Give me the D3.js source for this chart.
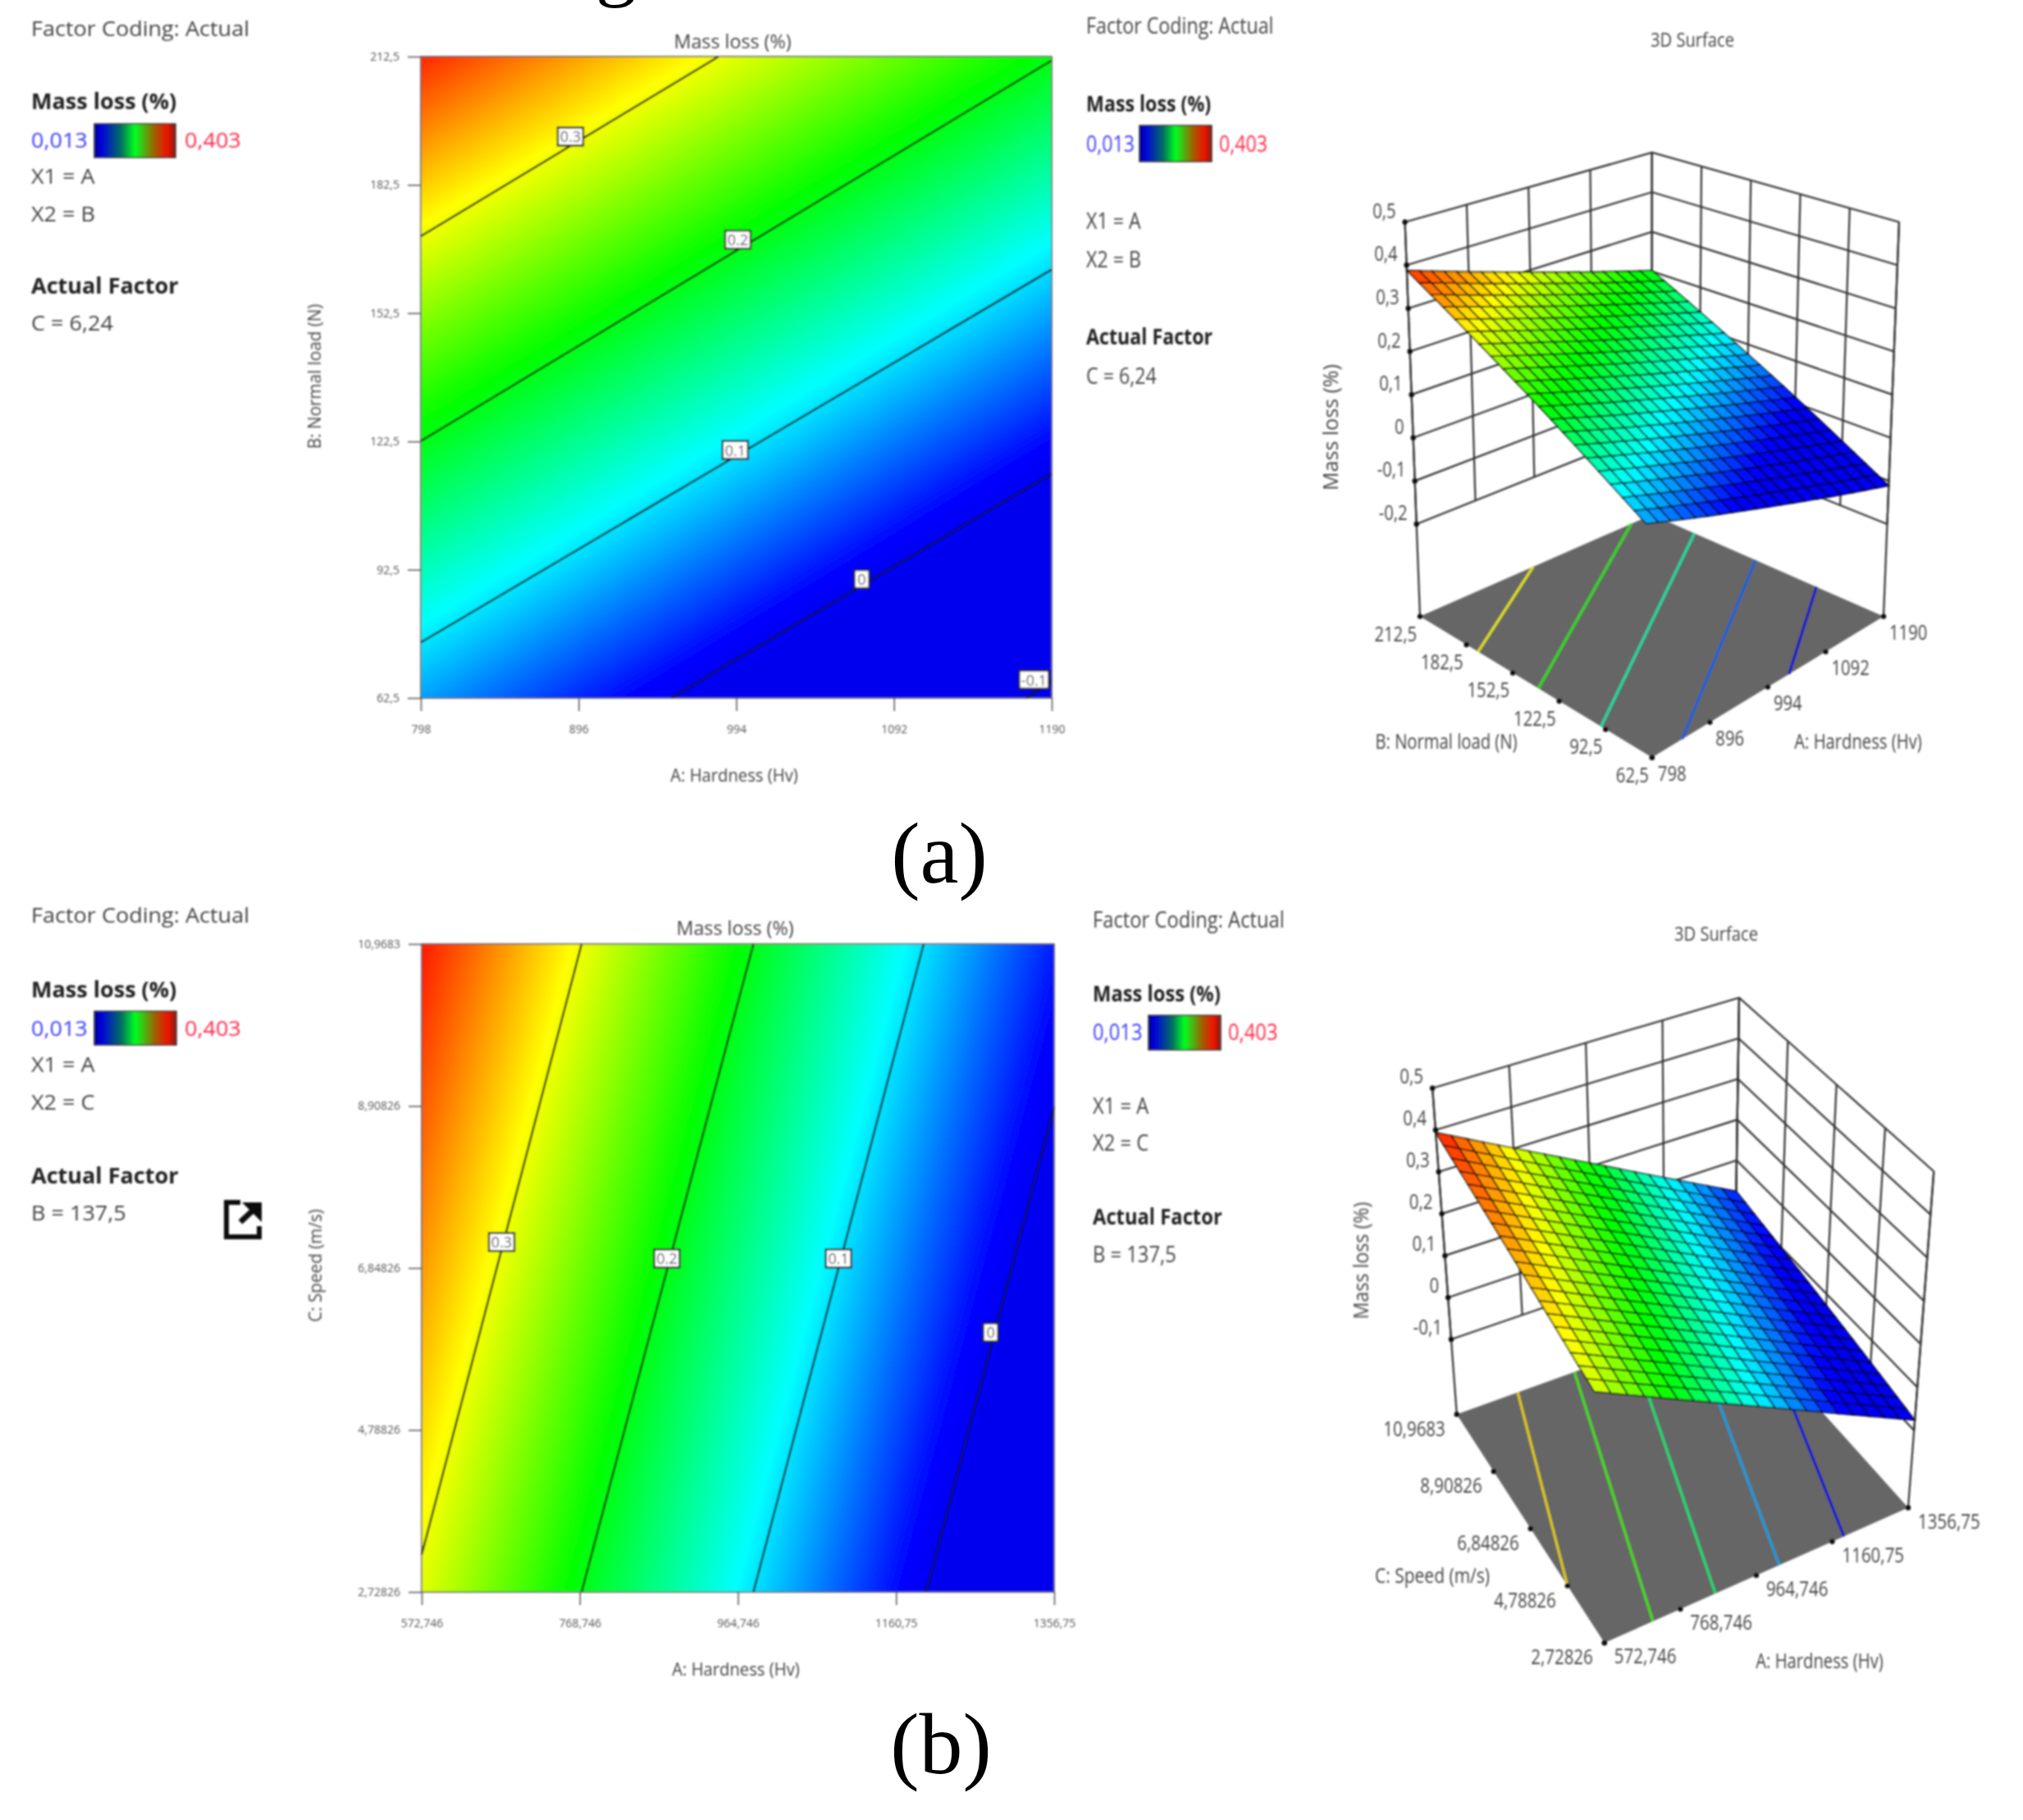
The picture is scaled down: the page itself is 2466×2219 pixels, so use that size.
<!DOCTYPE html>
<html>
<head>
<meta charset="utf-8">
<script src="https://cdn.jsdelivr.net/npm/d3@7"></script>
<style>
  body { margin: 0; background: #fff; }
</style>
</head>
<body>
<svg id="chart" width="2466" height="2219" font-family='"Open Sans", sans-serif'></svg>
<script>
// ---- values ----
const colorLevels = [-0.01, 0.013, 0.1105, 0.208, 0.3055, 0.403];
const colorStops = ['#0000ee', '#0000ff', '#00ffff', '#00ff00', '#ffff00', '#ff0000'];

const hardnessTicksA = [798, 896, 994, 1092, 1190];
const hardnessLabelsA = ['798', '896', '994', '1092', '1190'];
const loadTicks = [212.5, 182.5, 152.5, 122.5, 92.5, 62.5];
const loadLabels = ['212,5', '182,5', '152,5', '122,5', '92,5', '62,5'];
const zTicksA = [0.5, 0.4, 0.3, 0.2, 0.1, 0, -0.1, -0.2];
const zLabelsA = ['0,5', '0,4', '0,3', '0,2', '0,1', '0', '-0,1', '-0,2'];

// mass loss at the tick crossings, rows follow loadTicks, columns hardnessTicksA
const massLossA = [
  [0.388, 0.341, 0.295, 0.248, 0.202],
  [0.325, 0.279, 0.232, 0.186, 0.139],
  [0.262, 0.216, 0.169, 0.123, 0.076],
  [0.200, 0.153, 0.107, 0.060, 0.014],
  [0.137, 0.091, 0.044, -0.002, -0.049],
  [0.075, 0.028, -0.018, -0.065, -0.111],
];
const contourLevelsA = ['0.3', '0.2', '0.1', '0', '-0.1'];
const contourLinesA = [
  [[798, 170.5], [983, 212.5]],
  [[798, 122.6], [1190, 211.6]],
  [[798, 75.5], [1190, 162.7]],
  [[953.5, 62.5], [1190, 115]],
  [[1174, 62.5], [1190, 66.4]],
];
const contourLabelsAtA = [[891, 193.8], [995, 169.7], [993.4, 120.5], [1072, 90.3], [1179, 66.8]];
const floorLevelsA = [0.305, 0.222, 0.138, 0.055, -0.028];
const floorLinesA = [
  [[798, 175], [989, 212.5]],
  [[798, 136], [1155, 212.5]],
  [[798, 95.5], [1190, 185]],
  [[849, 62.5], [1190, 145.4]],
  [[1030, 62.5], [1190, 106]],
];

const hardnessTicksB = [572.746, 768.746, 964.746, 1160.75, 1356.75];
const hardnessLabelsB = ['572,746', '768,746', '964,746', '1160,75', '1356,75'];
const speedTicks = [10.9683, 8.90826, 6.84826, 4.78826, 2.72826];
const speedLabels = ['10,9683', '8,90826', '6,84826', '4,78826', '2,72826'];
const zTicksB = [0.5, 0.4, 0.3, 0.2, 0.1, 0, -0.1];
const zLabelsB = ['0,5', '0,4', '0,3', '0,2', '0,1', '0', '-0,1'];

const massLossB = [
  [0.394, 0.301, 0.209, 0.116, 0.024],
  [0.369, 0.276, 0.184, 0.091, -0.001],
  [0.344, 0.251, 0.159, 0.066, -0.026],
  [0.319, 0.226, 0.134, 0.041, -0.051],
  [0.294, 0.201, 0.109, 0.016, -0.076],
];
const contourLevelsB = ['0.3', '0.2', '0.1', '0'];
const contourLinesB = [
  [[572.746, 3.2], [771, 10.9683]],
  [[771, 2.72826], [984, 10.9683]],
  [[984, 2.72826], [1195, 10.9683]],
  [[1198, 2.72826], [1356.75, 8.9]],
];
const contourLabelsAtB = [[671.9, 7.18], [876.7, 6.97], [1089.5, 6.97], [1278, 6.03]];
const floorLevelsB = [0.3155, 0.237, 0.159, 0.081, 0.002];
const floorLinesB = [
  [[572.746, 4.79], [745, 10.9683]],
  [[698, 2.72826], [905, 10.9683]],
  [[859, 2.72826], [1071, 10.9683]],
  [[1024, 2.72826], [1236, 10.9683]],
  [[1191, 2.72826], [1356.75, 9.15]],
];

const legendColors = ['#000088', '#0000e0', '#007060', '#00ff20', '#a06000', '#f01000', '#802010'];
const legendOffsets = [0, 0.08, 0.33, 0.5, 0.74, 0.9, 1];

// ---- helpers ----
const svg = d3.select('#chart');
const defs = svg.append('defs');
defs.append('filter').attr('id', 'soft')
  .append('feGaussianBlur').attr('stdDeviation', 0.9);
const legendGrad = defs.append('linearGradient').attr('id', 'legendBar');
legendGrad.selectAll('stop')
  .data(legendColors)
  .join('stop')
  .attr('offset', (d, i) => legendOffsets[i])
  .attr('stop-color', d => d);

const color = d3.scaleLinear().domain(colorLevels).range(colorStops).clamp(true);
const root = svg.append('g').attr('filter', 'url(#soft)');

const addText = (g, s, x, y, o = {}) => {
  return g.append('text')
    .attr('transform', `translate(${x},${y}) rotate(${o.rotate || 0}) scale(${o.sx || 1},1)`)
    .attr('dominant-baseline', 'central')
    .attr('text-anchor', o.anchor || 'start')
    .attr('font-size', o.size || 24)
    .attr('font-weight', o.weight || 400)
    .attr('fill', o.fill || '#444')
    .text(s);
};

// reads the value matrix at any position between the ticks
const sampler = (xTicks, yTicks, matrix) => {
  const ix = d3.scaleLinear().domain(d3.extent(xTicks)).range([0, xTicks.length - 1]).clamp(true);
  const iy = d3.scaleLinear().domain([yTicks[0], yTicks[yTicks.length - 1]]).range([0, yTicks.length - 1]).clamp(true);
  return (a, b) => {
    const fx = ix(a), fy = iy(b);
    const x0 = Math.min(Math.floor(fx), xTicks.length - 2), y0 = Math.min(Math.floor(fy), yTicks.length - 2);
    const tx = fx - x0, ty = fy - y0;
    const top = matrix[y0][x0] * (1 - tx) + matrix[y0][x0 + 1] * tx;
    const bot = matrix[y0 + 1][x0] * (1 - tx) + matrix[y0 + 1][x0 + 1] * tx;
    return top * (1 - ty) + bot * ty;
  };
};

const drawLegend = (l) => {
  const g = root.append('g');
  addText(g, 'Factor Coding: Actual', l.x, l.yFactor, { size: l.size, sx: l.sx });
  addText(g, 'Mass loss (%)', l.x, l.yName, { size: l.size, sx: l.sx, weight: 700, fill: '#222' });
  addText(g, '0,013', l.x, l.yRange, { size: l.size, sx: l.sx, fill: '#3c3cff' });
  g.append('rect')
    .attr('x', l.bar[0]).attr('y', l.bar[1]).attr('width', l.bar[2]).attr('height', l.bar[3])
    .attr('fill', 'url(#legendBar)').attr('stroke', '#333').attr('stroke-width', 1.5);
  addText(g, '0,403', l.xMax, l.yRange, { size: l.size, sx: l.sx, fill: '#ff2a48' });
  addText(g, 'X1 = A', l.x, l.yX1, { size: l.size, sx: l.sx });
  addText(g, l.x2, l.x, l.yX2, { size: l.size, sx: l.sx });
  addText(g, 'Actual Factor', l.x, l.yActual, { size: l.size, sx: l.sx, weight: 700, fill: '#222' });
  addText(g, l.factor, l.x, l.yFactorValue, { size: l.size, sx: l.sx });
};

const tagWidth = (s) => s.length === 1 ? 18 : s.length === 3 ? 31 : 36;

const drawContour = (c) => {
  const g = root.append('g');
  const x = d3.scaleLinear().domain(d3.extent(c.xTicks)).range([c.box[0], c.box[2]]);
  const y = d3.scaleLinear().domain(d3.extent(c.yTicks)).range([c.box[3], c.box[1]]);
  const value = sampler(c.xTicks, c.yTicks, c.matrix);

  const w = c.box[2] - c.box[0], h = c.box[3] - c.box[1];
  const canvas = document.createElement('canvas');
  canvas.width = w; canvas.height = h;
  const ctx = canvas.getContext('2d');
  for (let py = 0; py < h; py += 2) {
    for (let px = 0; px < w; px += 2) {
      ctx.fillStyle = color(value(x.invert(c.box[0] + px + 1), y.invert(c.box[1] + py + 1)));
      ctx.fillRect(px, py, 2, 2);
    }
  }
  g.append('image')
    .attr('x', c.box[0]).attr('y', c.box[1]).attr('width', w).attr('height', h)
    .attr('href', canvas.toDataURL());

  const line = d3.line().x(d => x(d[0])).y(d => y(d[1]));
  g.selectAll('path.level')
    .data(c.lines)
    .join('path')
    .attr('class', 'level')
    .attr('d', line)
    .attr('fill', 'none')
    .attr('stroke', '#111')
    .attr('stroke-width', 2.4);

  g.append('rect')
    .attr('x', c.box[0]).attr('y', c.box[1]).attr('width', w).attr('height', h)
    .attr('fill', 'none').attr('stroke', '#555').attr('stroke-width', 1.5);

  const xAxis = d3.axisBottom(x).tickValues(c.xTicks).tickFormat((d, i) => c.xLabels[i]).tickSize(16).tickPadding(17);
  const yAxis = d3.axisLeft(y).tickValues(c.yTicks).tickFormat((d, i) => c.yLabels[i]).tickSize(16).tickPadding(10);
  [g.append('g').attr('transform', `translate(0,${c.box[3]})`).call(xAxis),
   g.append('g').attr('transform', `translate(${c.box[0]},0)`).call(yAxis)].forEach(ax => {
    ax.select('.domain').remove();
    ax.selectAll('line').attr('stroke', '#555').attr('stroke-width', 1.5);
    ax.selectAll('text').attr('font-size', 14).attr('fill', '#555').attr('font-family', '"Open Sans", sans-serif');
  });

  const tags = g.selectAll('g.tag')
    .data(c.tagPos)
    .join('g')
    .attr('class', 'tag')
    .attr('transform', d => `translate(${x(d[0])},${y(d[1])})`);
  tags.append('rect')
    .attr('x', (d, i) => -tagWidth(c.levels[i]) / 2).attr('y', -11)
    .attr('width', (d, i) => tagWidth(c.levels[i])).attr('height', 22)
    .attr('fill', '#fff').attr('stroke', '#222').attr('stroke-width', 2.4);
  tags.append('text')
    .attr('text-anchor', 'middle').attr('dominant-baseline', 'central')
    .attr('font-size', 18).attr('fill', '#445')
    .text((d, i) => c.levels[i]);

  addText(g, 'Mass loss (%)', c.title[0], c.title[1], { anchor: 'middle', size: 24, sx: 0.97 });
  addText(g, c.xName, c.xTitle[0], c.xTitle[1], { anchor: 'middle', size: 22, sx: 0.92 });
  addText(g, c.yName, c.yTitle[0], c.yTitle[1], { anchor: 'middle', size: 22, sx: 0.94, rotate: -90 });
};

const drawSurface = (s) => {
  const g = root.append('g');
  const u = d3.scaleLinear().domain(d3.extent(s.xTicks)).range([0, 1]);
  const v = d3.scaleLinear().domain(d3.extent(s.yTicks)).range([0, 1]);
  const w = d3.scaleLinear().domain([s.zFloor, s.zTicks[0]]).range([0, 1]);
  const value = sampler(s.xTicks, s.yTicks, s.matrix);

  // box corners: F front (xmin, ymin), L left (xmin, ymax), B back (xmax, ymax), R right (xmax, ymin)
  const mix = (p, q, t) => [p[0] + (q[0] - p[0]) * t, p[1] + (q[1] - p[1]) * t];
  const project = (a, b, z) => {
    const fu = u(a), fv = v(b), fw = w(z);
    const lo = mix(mix(s.bottom.F, s.bottom.R, fu), mix(s.bottom.L, s.bottom.B, fu), fv);
    const hi = mix(mix(s.top.F, s.top.R, fu), mix(s.top.L, s.top.B, fu), fv);
    return mix(lo, hi, fw);
  };
  const xs = d3.extent(s.xTicks), ys = d3.extent(s.yTicks);
  const zMin = d3.min(s.zTicks), zMax = d3.max(s.zTicks);
  const line = d3.line();
  const wire = (pts) => g.append('path').attr('d', line(pts)).attr('fill', 'none')
    .attr('stroke', '#333').attr('stroke-width', 2.2);

  // walls
  s.zTicks.forEach(z => {
    wire([project(xs[0], ys[1], z), project(xs[1], ys[1], z), project(xs[1], ys[0], z)]);
  });
  s.xTicks.forEach(a => wire([project(a, ys[1], zMin), project(a, ys[1], zMax)]));
  s.yTicks.forEach(b => wire([project(xs[1], b, zMin), project(xs[1], b, zMax)]));
  wire([project(xs[0], ys[1], s.zFloor), project(xs[0], ys[1], zMax)]);
  wire([project(xs[1], ys[1], s.zFloor), project(xs[1], ys[1], zMax)]);
  wire([project(xs[1], ys[0], s.zFloor), project(xs[1], ys[0], zMax)]);

  // floor and its contour lines
  g.append('path')
    .attr('d', line([[xs[0], ys[0]], [xs[1], ys[0]], [xs[1], ys[1]], [xs[0], ys[1]]].map(p => project(p[0], p[1], s.zFloor))) + 'Z')
    .attr('fill', '#666666');
  g.selectAll('path.floor')
    .data(s.floorLines)
    .join('path')
    .attr('class', 'floor')
    .attr('d', d => line(d.map(p => project(p[0], p[1], s.zFloor))))
    .attr('fill', 'none')
    .attr('stroke', (d, i) => d3.color(color(s.floorLevels[i])).darker(0.35))
    .attr('stroke-width', 3);

  // surface mesh
  const stepX = d3.scaleLinear().domain([0, 20]).range(xs);
  const stepY = d3.scaleLinear().domain([0, 20]).range(ys);
  g.selectAll('path.cell')
    .data(d3.cross(d3.range(20), d3.range(20)))
    .join('path')
    .attr('class', 'cell')
    .attr('d', ([i, j]) => {
      const corners = [[i, j], [i + 1, j], [i + 1, j + 1], [i, j + 1]].map(([m, n]) => {
        const a = stepX(m), b = stepY(n);
        return project(a, b, value(a, b));
      });
      return line(corners) + 'Z';
    })
    .attr('fill', ([i, j]) => color(value(stepX(i + 0.5), stepY(j + 0.5))))
    .attr('stroke', '#000')
    .attr('stroke-opacity', 0.85)
    .attr('stroke-width', 1.7);

  // tick dots
  const dots = [
    ...s.zTicks.map(z => project(xs[0], ys[1], z)),
    ...s.yTicks.map(b => project(xs[0], b, s.zFloor)),
    ...s.xTicks.map(a => project(a, ys[0], s.zFloor)),
  ];
  g.selectAll('circle')
    .data(dots)
    .join('circle')
    .attr('cx', d => d[0]).attr('cy', d => d[1]).attr('r', 3.2)
    .attr('fill', '#111');

  // tick labels
  s.zTicks.forEach((z, i) => {
    const p = project(xs[0], ys[1], z);
    addText(g, s.zLabels[i], p[0] + s.zOff[0], p[1] + s.zOff[1], { anchor: 'end', size: s.font, sx: s.sx });
  });
  s.yTicks.forEach((b, i) => {
    const p = project(xs[0], b, s.zFloor);
    addText(g, s.yLabels[i], p[0] + s.yOff[0], p[1] + s.yOff[1], { anchor: 'end', size: s.font, sx: s.sx });
  });
  s.xTicks.forEach((a, i) => {
    const p = project(a, ys[0], s.zFloor);
    addText(g, s.xLabels[i], p[0] + s.xOff[0], p[1] + s.xOff[1], { size: s.font, sx: s.sx });
  });

  addText(g, '3D Surface', s.title[0], s.title[1], { anchor: 'middle', size: 24, sx: 0.84 });
  addText(g, 'Mass loss (%)', s.zTitle[0], s.zTitle[1], { anchor: 'middle', size: 25, sx: s.zTitleSx, rotate: -90 });
  addText(g, s.xName, s.xTitle[0], s.xTitle[1], { anchor: 'middle', size: 25, sx: 0.81 });
  addText(g, s.yName, s.yTitle[0], s.yTitle[1], { anchor: 'middle', size: 25, sx: s.yNameSx });
};

// ---- panels ----
drawLegend({ x: 38, size: 26, sx: 1.04, xMax: 225, bar: [115, 151, 99, 41], yFactor: 34, yName: 123, yRange: 170, yX1: 214, yX2: 260, yActual: 348, yFactorValue: 393, x2: 'X2 = B', factor: 'C = 6,24' });
drawLegend({ x: 1324, size: 27, sx: 0.86, xMax: 1486, bar: [1389, 153, 88, 44], yFactor: 30, yName: 125, yRange: 174, yX1: 268, yX2: 315, yActual: 409, yFactorValue: 457, x2: 'X2 = B', factor: 'C = 6,24' });
drawLegend({ x: 38, size: 26, sx: 1.04, xMax: 225, bar: [115, 1233, 100, 41], yFactor: 1115, yName: 1206, yRange: 1253, yX1: 1297, yX2: 1343, yActual: 1433, yFactorValue: 1478, x2: 'X2 = C', factor: 'B = 137,5' });
drawLegend({ x: 1332, size: 27, sx: 0.88, xMax: 1497, bar: [1400, 1238, 88, 42], yFactor: 1120, yName: 1210, yRange: 1257, yX1: 1347, yX2: 1392, yActual: 1482, yFactorValue: 1528, x2: 'X2 = C', factor: 'B = 137,5' });

drawContour({
  box: [513, 69, 1282, 851], xTicks: hardnessTicksA, xLabels: hardnessLabelsA, yTicks: loadTicks, yLabels: loadLabels,
  matrix: massLossA, lines: contourLinesA, levels: contourLevelsA, tagPos: contourLabelsAtA,
  title: [893, 50], xTitle: [895, 944], yTitle: [382, 459], xName: 'A: Hardness (Hv)', yName: 'B: Normal load (N)',
});
drawContour({
  box: [514, 1151, 1285, 1941], xTicks: hardnessTicksB, xLabels: hardnessLabelsB, yTicks: speedTicks, yLabels: speedLabels,
  matrix: massLossB, lines: contourLinesB, levels: contourLevelsB, tagPos: contourLabelsAtB,
  title: [896, 1131], xTitle: [897, 2034], yTitle: [383, 1543], xName: 'A: Hardness (Hv)', yName: 'C: Speed (m/s)',
});

drawSurface({
  xTicks: hardnessTicksA, xLabels: hardnessLabelsA, yTicks: loadTicks, yLabels: loadLabels, matrix: massLossA,
  zTicks: zTicksA, zLabels: zLabelsA, zFloor: -0.414, floorLines: floorLinesA, floorLevels: floorLevelsA,
  top: { L: [1712.6, 270.7], B: [2013.8, 186], R: [2315, 270.7], F: [2000.4, 391] },
  bottom: { L: [1731, 751.6], B: [2013.8, 627.4], R: [2296, 751.6], F: [2013.8, 923.6] },
  font: 26, sx: 0.78, zOff: [-11, -15], yOff: [-4, 20], xOff: [7, 18],
  title: [2063, 47], zTitle: [1621, 521], xTitle: [2265, 904], yTitle: [1763, 904],
  xName: 'A: Hardness (Hv)', yName: 'B: Normal load (N)', zTitleSx: 1, yNameSx: 0.81,
});
drawSurface({
  xTicks: hardnessTicksB, xLabels: hardnessLabelsB, yTicks: speedTicks, yLabels: speedLabels, matrix: massLossB,
  zTicks: zTicksB, zLabels: zLabelsB, zFloor: -0.279, floorLines: floorLinesB, floorLevels: floorLevelsB,
  top: { L: [1746.1, 1326.7], B: [2120, 1216.4], R: [2357.3, 1428.3], F: [1938.7, 1586.5] },
  bottom: { L: [1775.8, 1724.4], B: [2114.1, 1602.5], R: [2326, 1838.3], F: [1955.8, 2003] },
  font: 25, sx: 0.82, zOff: [-11, -15], yOff: [-14, 17], xOff: [12, 16],
  title: [2092, 1137], zTitle: [1658, 1537], xTitle: [2218, 2025], yTitle: [1746, 1920],
  xName: 'A: Hardness (Hv)', yName: 'C: Speed (m/s)', zTitleSx: 0.93, yNameSx: 0.84,
});

// export icon beside panel b
const icon = root.append('g').attr('transform', 'translate(273,1463)');
icon.append('path').attr('d', 'M20,3 H3 V45 H43 V32').attr('fill', 'none').attr('stroke', '#111').attr('stroke-width', 6);
icon.append('path').attr('d', 'M22,3 H46 V27 Z').attr('fill', '#111');
icon.append('path').attr('d', 'M20,27 L36,12').attr('fill', 'none').attr('stroke', '#111').attr('stroke-width', 7);

// caption letters stay sharp
const serif = '"Liberation Serif", serif';
svg.append('text').attr('x', 751).attr('y', -11).attr('text-anchor', 'middle').attr('font-family', serif).attr('font-size', 100).text('g');
svg.append('text').attr('x', 1145).attr('y', 1076).attr('text-anchor', 'middle').attr('font-family', serif).attr('font-size', 106).text('(a)');
svg.append('text').attr('x', 1147).attr('y', 2162).attr('text-anchor', 'middle').attr('font-family', serif).attr('font-size', 106).text('(b)');
</script>
</body>
</html>
